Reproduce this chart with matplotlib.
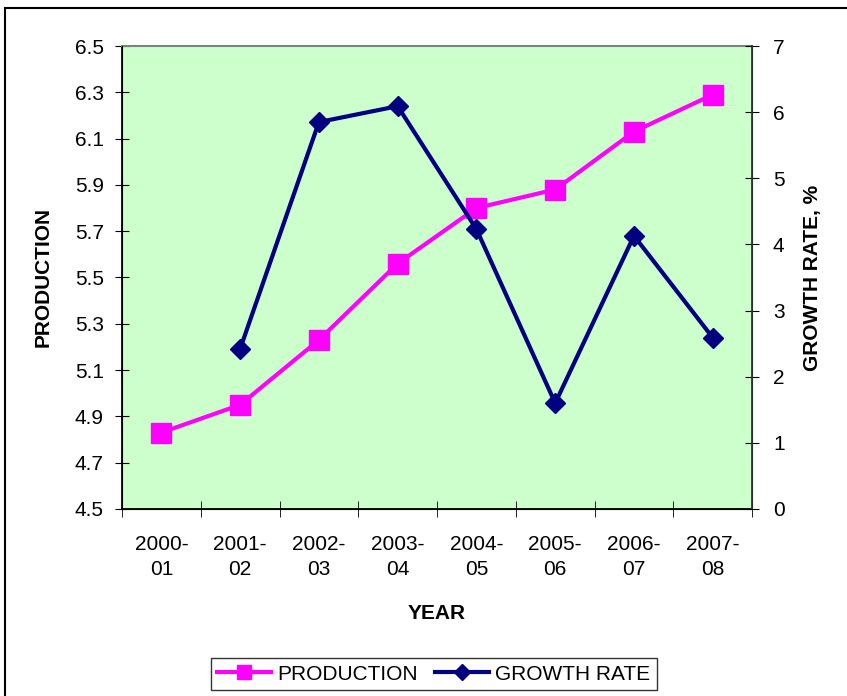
import matplotlib.pyplot as plt
from matplotlib.patches import Rectangle
from matplotlib.lines import Line2D

plt.rcParams['font.family'] = ['Liberation Sans', 'DejaVu Sans']

years = ['2000-\n01', '2001-\n02', '2002-\n03', '2003-\n04',
         '2004-\n05', '2005-\n06', '2006-\n07', '2007-\n08']
production = [4.83, 4.95, 5.23, 5.56, 5.80, 5.88, 6.13, 6.29]
growth_years = years[1:]
growth_rate = [2.42, 5.85, 6.09, 4.23, 1.60, 4.13, 2.59]

fig = plt.figure(figsize=(8.47, 6.96), dpi=100)
ax = fig.add_axes([0.144, 0.2687, 0.744, 0.6652])
ax.set_facecolor('#CCFFCC')

xs = list(range(len(years)))
gx = xs[1:]

ax.plot(xs, production, color='#FF00FF', lw=3, marker='s', ms=14,
        zorder=3, clip_on=False)
ax.set_xlim(-0.5, len(years) - 0.5)
ax.set_ylim(4.5, 6.5)
ax.set_yticks([4.5 + 0.2 * i for i in range(11)])
ax.set_yticklabels(['%.1f' % (4.5 + 0.2 * i) for i in range(11)])
ax.set_xticks(xs)
ax.set_xticklabels(years, linespacing=1.4)
ax.set_xticks([x + 0.5 for x in range(-1, len(years))], minor=True)
ax.tick_params(axis='x', which='major', length=0, labelsize=15, pad=19)
ax.tick_params(axis='x', which='minor', direction='inout', length=12)
ax.tick_params(axis='y', direction='inout', length=10, labelsize=15, pad=8)
ax.set_ylabel('PRODUCTION', fontsize=15, fontweight='bold', labelpad=16)
ax.set_xlabel('YEAR', fontsize=15, fontweight='bold', labelpad=18)
ax.spines['top'].set_color('#808080')
ax.spines['top'].set_linewidth(1.5)
ax.spines['left'].set_linewidth(1.3)
ax.spines['bottom'].set_linewidth(1.3)

ax2 = ax.twinx()
ax2.plot(gx, growth_rate, color='#000080', lw=3, marker='D', ms=10,
         zorder=3)
ax2.set_ylim(0, 7)
ax2.set_yticks(range(8))
ax2.tick_params(axis='y', direction='inout', length=10, labelsize=15, pad=10)
ax2.set_ylabel('GROWTH RATE, %', fontsize=15, fontweight='bold', labelpad=13)
ax2.spines['top'].set_visible(False)
ax2.spines['right'].set_linewidth(1.3)
ax2.spines['right'].set_color('#333333')

fig.patches.append(Rectangle((0.006, -0.05), 1.2, 0.9885 + 0.05,
                             transform=fig.transFigure, fill=False,
                             edgecolor='black', lw=1.5))

handles = [Line2D([], [], color='#FF00FF', lw=3, marker='s', ms=10),
           Line2D([], [], color='#000080', lw=3, marker='D', ms=8)]
fig.legend(handles, ['PRODUCTION', 'GROWTH RATE'], ncol=2,
           loc='center', bbox_to_anchor=(0.512, 0.0316), fontsize=15,
           frameon=True, fancybox=False, edgecolor='black',
           handlelength=2.6, handletextpad=0.3, columnspacing=0.8,
           borderpad=0.3)

fig.savefig('out.png', dpi=100)
